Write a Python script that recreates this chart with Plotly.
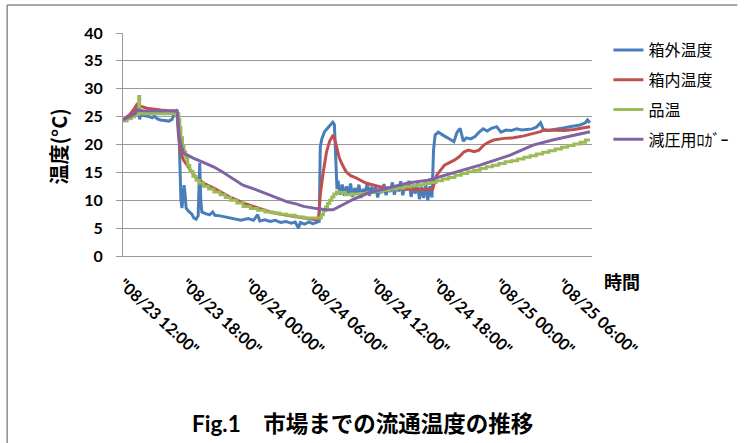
import pandas as pd
import plotly.graph_objects as go

# Elapsed hours from 08/23 12:00 and readings (°C) for each logger
start = pd.Timestamp("2013-08-23 12:00")

outer_hours = [0, 0.5, 1.0, 1.3, 1.5, 1.6, 1.7, 2.0, 2.5, 2.8, 3.0, 3.3, 3.6, 4.0, 4.4, 4.7, 4.9, 5.1, 5.25,
               5.4, 5.55, 5.65, 5.75, 5.85, 5.95, 6.05, 6.3, 6.6, 6.8, 7.0, 7.2, 7.35, 7.45, 7.55, 7.9, 8.3,
               8.6, 8.8, 9.3, 9.8, 10.3, 10.8, 11.3, 11.5, 12.0, 12.5, 12.9, 13.1, 13.6, 14.1, 14.6, 15.1,
               15.6, 16.1, 16.5, 16.8, 17.0, 17.4, 17.8, 18.2, 18.6, 18.8, 18.9, 19.05, 19.3, 19.6, 19.9,
               20.1, 20.25, 20.4, 20.5, 20.6, 20.8, 21.0, 21.2, 21.4, 21.6, 21.8, 22.0, 22.2, 22.4, 22.6,
               22.8, 23.0, 23.2, 23.4, 23.6, 23.8, 24.0, 24.2, 24.4, 24.6, 24.8, 25.0, 25.2, 25.4, 25.6,
               25.8, 26.0, 26.2, 26.4, 26.6, 26.8, 27.0, 27.2, 27.4, 27.6, 27.8, 28.0, 28.2, 28.4, 28.6,
               28.8, 29.0, 29.2, 29.4, 29.6, 29.75, 29.9, 30.2, 30.5, 30.8, 31.1, 31.4, 31.7, 32.0, 32.3,
               32.6, 32.9, 33.3, 33.7, 34.1, 34.5, 34.9, 35.3, 35.8, 36.2, 36.7, 37.2, 37.7, 38.2, 38.7,
               39.2, 39.6, 40.0, 40.3, 40.8, 41.3, 41.8, 42.3, 42.8, 43.3, 43.8, 44.3, 44.5, 44.74]
outer_temp = [24.4, 25.0, 25.8, 26.3, 26.0, 24.5, 25.5, 25.2, 25.0, 24.8, 25.1, 24.6, 24.4, 24.3, 24.2, 24.5,
              25.5, 26.0, 25.5, 20.0, 10.0, 8.6, 10.5, 12.7, 11.0, 8.6, 8.0, 7.5, 6.8, 6.6, 7.2, 16.7, 10.0,
              7.9, 7.6, 7.4, 7.9, 7.3, 7.2, 7.0, 6.8, 6.6, 6.4, 6.5, 6.7, 6.4, 7.4, 6.3, 6.5, 6.2, 6.4, 6.0,
              6.2, 5.9, 6.1, 5.0, 6.0, 5.7, 6.1, 5.8, 6.0, 6.2, 19.6, 21.0, 22.3, 23.0, 23.6, 24.0, 23.6,
              17.0, 12.0, 13.5, 11.0, 12.8, 10.8, 12.5, 11.2, 13.0, 10.6, 12.2, 11.0, 12.8, 10.4, 12.0, 11.4,
              13.0, 10.8, 12.4, 11.2, 12.6, 10.5, 12.1, 11.3, 12.9, 10.9, 12.3, 11.5, 13.2, 11.0, 12.6, 11.6,
              13.4, 10.9, 12.5, 11.8, 13.5, 10.6, 12.8, 11.2, 13.0, 10.2, 12.4, 10.4, 12.9, 10.0, 12.5, 10.5,
              19.0, 21.7, 22.2, 21.8, 21.5, 21.2, 20.9, 20.5, 22.2, 22.9, 20.6, 21.2, 21.0, 21.4, 22.2, 22.8,
              22.4, 22.9, 23.2, 22.2, 22.6, 22.5, 22.8, 22.6, 22.7, 22.8, 23.1, 23.9, 22.6, 22.5, 22.7, 22.8,
              23.0, 23.2, 23.3, 23.5, 23.9, 24.4, 23.9]

inner_hours = [0, 0.6, 1.0, 1.3, 1.5, 1.8, 2.3, 3.0, 3.6, 4.2, 4.9, 5.15, 5.3, 5.53, 5.8, 6.1, 6.5, 7.0, 7.8,
               8.7, 9.5, 10.2, 11.0, 11.5, 12.5, 14.1, 15.7, 17.3, 18.56, 18.75, 18.9, 19.19, 19.5, 19.8,
               20.13, 20.3, 20.72, 21.0, 21.38, 21.8, 22.32, 23.26, 24.0, 24.87, 26.0, 27.3, 28.5, 29.67,
               30.05, 30.8, 31.74, 32.2, 32.68, 33.1, 33.63, 34.1, 34.57, 35.0, 35.51, 36.5, 37.4, 38.3,
               39.28, 40.0, 40.3, 41.2, 42.3, 43.2, 44.0, 44.74]
inner_temp = [24.4, 25.3, 26.2, 27.1, 26.6, 26.8, 26.5, 26.3, 26.2, 26.1, 26.0, 26.0, 22.0, 18.7, 17.2, 16.3,
              15.3, 14.0, 13.0, 12.2, 11.4, 10.6, 10.0, 9.5, 8.9, 7.9, 7.3, 6.8, 6.5, 7.0, 11.0, 15.1, 18.7,
              20.6, 21.7, 20.8, 17.6, 16.4, 15.1, 14.4, 14.0, 13.1, 12.7, 12.3, 12.1, 12.0, 11.9, 12.0, 14.5,
              16.3, 17.2, 17.8, 18.7, 19.0, 18.7, 19.0, 19.9, 20.4, 20.8, 21.1, 21.2, 21.5, 22.0, 22.3, 22.6,
              22.5, 22.5, 22.7, 23.0, 23.2]

product_hours = [0, 0.4, 0.8, 1.1, 1.45, 1.5, 1.6, 2.5, 3.5, 4.5, 5.2, 5.35, 5.45, 5.55, 5.7, 5.85, 6.0, 6.2,
                 6.4, 6.7, 7.0, 7.3, 7.7, 8.2, 8.7, 9.3, 9.8, 10.3, 10.9, 11.5, 12.2, 12.9, 13.6, 14.3, 15.0,
                 15.7, 16.5, 17.3, 18.8, 19.0, 19.2, 19.4, 19.6, 19.8, 20.0, 20.2, 20.45, 20.7, 21.3, 22.0,
                 22.7, 23.4, 24.1, 24.8, 25.5, 26.2, 26.9, 27.6, 28.3, 28.9, 29.4, 30.0, 30.6, 31.2, 31.8,
                 32.4, 33.0, 33.6, 34.2, 34.8, 35.4, 36.0, 36.6, 37.2, 37.8, 38.4, 39.0, 39.6, 40.2, 40.8,
                 41.4, 42.0, 42.6, 43.2, 43.8, 44.3, 44.74]
product_temp = [24.2, 24.6, 25.0, 25.4, 25.6, 28.6, 25.5, 25.5, 25.5, 25.5, 25.5, 24.5, 23.0, 21.2, 19.8,
                18.7, 17.6, 16.3, 15.2, 14.3, 13.6, 13.1, 12.5, 12.0, 11.5, 11.0, 10.5, 10.0, 9.5, 8.9, 8.5,
                8.2, 7.9, 7.7, 7.5, 7.3, 7.0, 6.8, 6.8, 7.4, 8.1, 8.8, 9.4, 10.0, 10.6, 11.1, 11.5, 11.4,
                11.0, 11.1, 11.2, 11.4, 11.6, 11.8, 12.0, 12.2, 12.4, 12.6, 12.8, 13.0, 13.2, 13.5, 13.8,
                14.1, 14.5, 14.8, 15.1, 15.4, 15.7, 16.0, 16.3, 16.6, 16.9, 17.1, 17.4, 17.7, 18.0, 18.3,
                18.6, 18.9, 19.2, 19.5, 19.8, 20.1, 20.4, 20.8, 20.8]

logger_hours = [0, 0.6, 1.13, 1.41, 2.0, 3.0, 4.0, 5.0, 5.2, 5.37, 5.6, 5.84, 6.78, 7.7, 8.67, 9.5, 10.24,
                11.49, 12.6, 14.13, 15.73, 16.67, 17.3, 18.56, 19.4, 20.13, 20.72, 21.38, 22.0, 23.5, 25.4,
                27.3, 29.2, 31.7, 34.2, 37.1, 39.28, 41.16, 43.3, 44.74]
logger_temp = [24.4, 25.0, 25.5, 26.2, 26.0, 26.0, 26.0, 26.0, 26.0, 21.7, 19.5, 18.4, 17.5, 16.8, 16.0,
               15.1, 14.2, 12.7, 12.0, 10.9, 9.7, 9.3, 8.9, 8.5, 8.3, 8.3, 8.8, 9.5, 10.1, 11.3, 12.2, 13.1,
               13.6, 14.9, 16.3, 18.1, 19.9, 20.8, 21.7, 22.3]

series_names = ["箱外温度", "箱内温度", "品温", "減圧用ﾛｶﾞｰ"]
y_ticks = [0, 5, 10, 15, 20, 25, 30, 35, 40]


def to_time(hours):
    return start + pd.to_timedelta(hours, unit="h")


LATIN = "Lato, 'Noto Sans CJK JP', sans-serif"
CJK = "'Noto Sans CJK JP', sans-serif"
GRID = "#9a9a9a"

fig = go.Figure()
specs = [
    (outer_hours, outer_temp, "#4a7ebb", "linear"),
    (inner_hours, inner_temp, "#c0504d", "linear"),
    (product_hours, product_temp, "#9bbb59", "hv"),
    (logger_hours, logger_temp, "#8064a2", "linear"),
]
for name, (hrs, vals, color, shape) in zip(series_names, specs):
    fig.add_trace(go.Scatter(
        x=to_time(hrs), y=vals, mode="lines", name=name, legendgroup=name,
        line=dict(color=color, width=3, shape=shape),
    ))

fig.update_layout(
    width=746, height=443,
    margin=dict(l=123, r=146, t=33, b=187),
    paper_bgcolor="white", plot_bgcolor="white",
    showlegend=True,
    legend=dict(
        x=1.035, xanchor="left", y=1.0, yanchor="top",
        font=dict(family=CJK, size=16, color="#000"),
        traceorder="grouped", tracegroupgap=6,
        itemwidth=30, bgcolor="rgba(0,0,0,0)",
    ),
    xaxis=dict(
        type="date",
        range=[start, to_time(44.93)],
        tick0=start, dtick=6 * 3600 * 1000,
        tickformat='"%m/%d %H:%M"',
        tickangle=43,
        tickfont=dict(family=LATIN, size=16, color="#000", weight="bold"),
        ticks="", ticklabelstandoff=12,
        showgrid=False, zeroline=False,
        showline=True, linecolor=GRID, linewidth=1,
    ),
    yaxis=dict(
        range=[0, 40], tickvals=y_ticks,
        tickfont=dict(family=LATIN, size=16, color="#000", weight="bold"),
        ticks="outside", ticklen=6, tickcolor=GRID,
        ticklabelstandoff=10,
        showgrid=True, gridcolor=GRID, gridwidth=1,
        zeroline=False,
        showline=True, linecolor=GRID, linewidth=1,
    ),
    annotations=[
        dict(text="温度(°C)", xref="paper", yref="paper", x=-0.137, y=0.49,
             xanchor="center", yanchor="middle", textangle=-90, showarrow=False,
             font=dict(family=CJK, size=20, color="#000", weight="bold")),
        dict(text="時間", xref="paper", yref="paper", x=1.063, y=-0.11,
             xanchor="center", yanchor="middle", showarrow=False,
             font=dict(family=CJK, size=18, color="#000", weight="bold")),
        dict(text="Fig.1\u3000市場までの流通温度の推移", xref="paper", yref="paper",
             x=0.51, y=-0.752, xanchor="center", yanchor="middle", showarrow=False,
             font=dict(family=LATIN, size=22.5, color="#000", weight="bold")),
    ],
    shapes=[
        dict(type="line", xref="paper", yref="paper", x0=-0.247, x1=1.31, y0=1.126, y1=1.126,
             line=dict(color="#8c8c8c", width=1.5)),
        dict(type="line", xref="paper", yref="paper", x0=-0.247, x1=-0.247, y0=1.126, y1=-0.85,
             line=dict(color="#8c8c8c", width=1.5)),
    ],
)

fig.write_html("out.html")
